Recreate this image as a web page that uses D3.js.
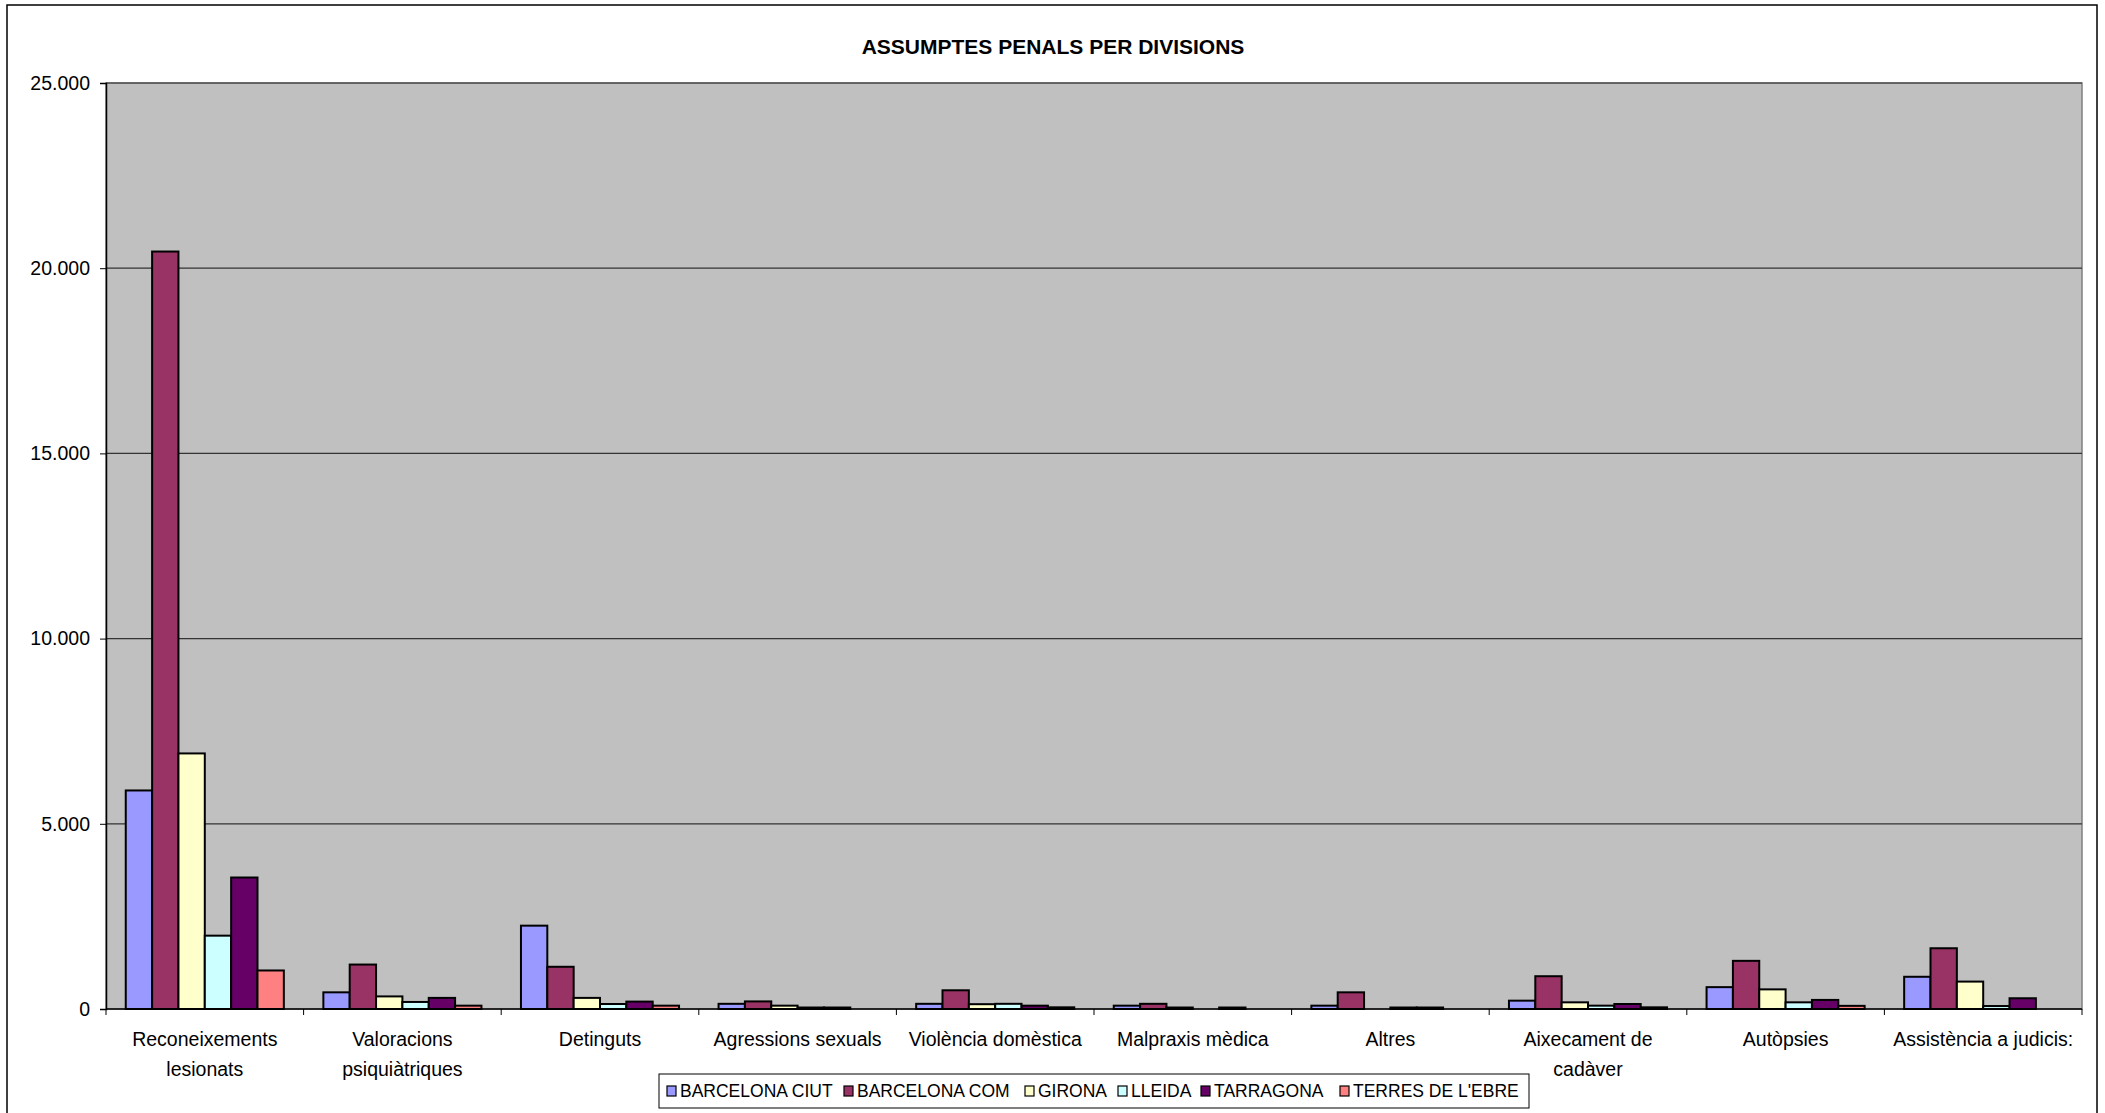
<!DOCTYPE html>
<html>
<head>
<meta charset="utf-8">
<script src="https://cdn.jsdelivr.net/npm/d3@7"></script>
<style>
    body { margin: 0; background: #fff; }
    svg text { font-family: "Liberation Sans", Arial, sans-serif; fill: #000; }
</style>
</head>
<body>
<div class="svg-wrap"><svg></svg></div>
<script>
var categories = [
    ["Reconeixements", "lesionats"],
    ["Valoracions", "psiquiàtriques"],
    ["Detinguts"],
    ["Agressions sexuals"],
    ["Violència domèstica"],
    ["Malpraxis mèdica"],
    ["Altres"],
    ["Aixecament de", "cadàver"],
    ["Autòpsies"],
    ["Assistència a judicis:"]
];
var seriesNames = ["BARCELONA CIUT", "BARCELONA COM", "GIRONA", "LLEIDA", "TARRAGONA", "TERRES DE L'EBRE"];
var barcelonaCiut = [5900, 450, 2250, 140, 140, 90, 90, 225, 590, 870];
var barcelonaCom = [20450, 1200, 1140, 205, 505, 140, 450, 885, 1300, 1640];
var girona = [6900, 340, 300, 90, 130, 40, 0, 180, 530, 740];
var lleida = [1980, 190, 135, 40, 140, 0, 40, 90, 180, 80];
var tarragona = [3550, 300, 200, 40, 90, 40, 40, 135, 245, 290];
var terresEbre = [1040, 90, 90, 0, 45, 0, 0, 45, 85, 0];
var yTicks = [0, 5000, 10000, 15000, 20000, 25000];

var seriesValues = [barcelonaCiut, barcelonaCom, girona, lleida, tarragona, terresEbre];
var seriesColors = ["#9999FF", "#993366", "#FFFFCC", "#CCFFFF", "#660066", "#FF8080"];

var width = 2105;
var height = 1113;
var plot = { left: 106, right: 2082, top: 83, bottom: 1009 };

var svg = d3.select(".svg-wrap > svg")
    .attr("width", width)
    .attr("height", height);

var locale = d3.formatLocale({ decimal: ",", thousands: ".", grouping: [3], currency: ["", "€"] });
var fmt = locale.format(",d");

// outer chart border (bottom edge falls off the picture)
svg.append("rect")
    .attr("x", 7).attr("y", 5)
    .attr("width", 2090).attr("height", 1130)
    .attr("fill", "#fff")
    .attr("stroke", "#000")
    .attr("stroke-width", 1.5);

svg.append("text")
    .attr("x", 1053).attr("y", 54)
    .attr("text-anchor", "middle")
    .attr("font-size", "21px")
    .attr("font-weight", "bold")
    .text("ASSUMPTES PENALS PER DIVISIONS");

var y = d3.scaleLinear().domain([0, 25000]).range([plot.bottom, plot.top]);
var x0 = d3.scaleBand().domain(d3.range(categories.length)).range([plot.left, plot.right]);
var bw = x0.bandwidth();
var x1 = d3.scaleBand().domain(d3.range(seriesNames.length))
    .range([bw * 0.75 / 7.5, bw - bw * 0.75 / 7.5]);

svg.append("rect")
    .attr("x", plot.left).attr("y", plot.top)
    .attr("width", plot.right - plot.left).attr("height", plot.bottom - plot.top)
    .attr("fill", "#C0C0C0")
    .attr("stroke", "#808080")
    .attr("stroke-width", 1.5);

svg.append("g")
    .attr("class", "grid")
    .selectAll("line")
    .data(yTicks.slice(1)).enter().append("line")
    .attr("x1", plot.left).attr("x2", plot.right)
    .attr("y1", y).attr("y2", y)
    .attr("stroke", "#333")
    .attr("stroke-width", 1.2);

var yAxis = svg.append("g")
    .attr("transform", "translate(" + plot.left + ",0)")
    .call(d3.axisLeft(y).tickValues(yTicks).tickFormat(fmt).tickSize(6).tickPadding(10));
yAxis.select(".domain").attr("stroke", "#000").attr("stroke-width", 1.5);
yAxis.selectAll(".tick line").attr("stroke", "#000");
yAxis.selectAll("text")
    .attr("font-size", "19.5px")
    .attr("font-family", "Liberation Sans, Arial, sans-serif");

var groups = svg.append("g")
    .attr("class", "bars")
    .selectAll("g")
    .data(categories).enter().append("g")
    .attr("transform", function (d, i) {
        return "translate(" + x0(i) + ",0)";
    });

groups.selectAll("rect")
    .data(function (d, i) {
        return seriesValues.map(function (vals, s) {
            return { s: s, v: vals[i] };
        });
    })
    .enter().append("rect")
    .filter(function (d) { return d.v > 0; })
    .attr("x", function (d) { return x1(d.s); })
    .attr("width", x1.bandwidth())
    .attr("y", function (d) { return y(d.v); })
    .attr("height", function (d) { return y(0) - y(d.v); })
    .attr("fill", function (d) { return seriesColors[d.s]; })
    .attr("stroke", "#000")
    .attr("stroke-width", 2);

// category axis
var boundaries = d3.range(categories.length + 1).map(function (i) {
    return plot.left + i * bw;
});
svg.append("line")
    .attr("x1", plot.left).attr("x2", plot.right)
    .attr("y1", plot.bottom).attr("y2", plot.bottom)
    .attr("stroke", "#000")
    .attr("stroke-width", 1.5);
svg.append("g")
    .selectAll("line")
    .data(boundaries).enter().append("line")
    .attr("x1", function (d) { return d; }).attr("x2", function (d) { return d; })
    .attr("y1", plot.bottom).attr("y2", plot.bottom + 6)
    .attr("stroke", "#000");

var labels = svg.append("g")
    .selectAll("text")
    .data(categories).enter().append("text")
    .attr("text-anchor", "middle")
    .attr("font-size", "19.5px")
    .attr("transform", function (d, i) {
        return "translate(" + (x0(i) + bw / 2) + ",1046)";
    });
labels.selectAll("tspan")
    .data(function (d) { return d; })
    .enter().append("tspan")
    .attr("x", 0)
    .attr("y", function (d, i) { return i * 30; })
    .text(function (d) { return d; });

// legend
var legendX = [667, 844, 1025, 1118, 1201, 1340];
var legend = svg.append("g").attr("class", "legend");
legend.append("rect")
    .attr("x", 659).attr("y", 1074)
    .attr("width", 870).attr("height", 34)
    .attr("fill", "#fff")
    .attr("stroke", "#000")
    .attr("stroke-width", 1);
var items = legend.selectAll("g")
    .data(seriesNames).enter().append("g")
    .attr("transform", function (d, i) {
        return "translate(" + legendX[i] + ",1091)";
    });
items.append("rect")
    .attr("x", 0).attr("y", -5)
    .attr("width", 9).attr("height", 10)
    .attr("fill", function (d, i) { return seriesColors[i]; })
    .attr("stroke", "#000")
    .attr("stroke-width", 1.2);
items.append("text")
    .attr("x", 13)
    .attr("y", 6)
    .attr("font-size", "17.5px")
    .text(function (d) { return d; });
</script>
</body>
</html>
